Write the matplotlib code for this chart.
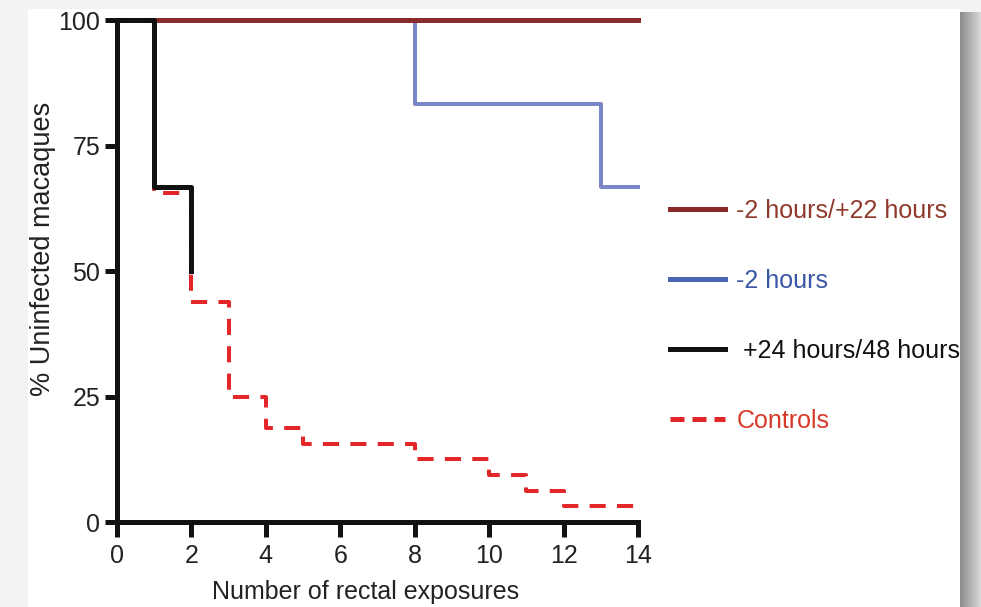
import numpy as np
import matplotlib
matplotlib.use('Agg')
import matplotlib.pyplot as plt
from matplotlib.lines import Line2D
from matplotlib.patches import Rectangle

plt.rcParams['font.family'] = ['Liberation Sans', 'DejaVu Sans']

# Kaplan-Meier style step data (x = exposure number where value starts)
both_x = [0, 14]
both_y = [100, 100]

pre_x = [0, 8, 13, 14]
pre_y = [100, 83.3, 66.7, 66.7]

post_x = [0, 1, 2]
post_y = [100, 66.7, 50]

ctrl_x = [0, 1, 2, 3, 4, 5, 8, 10, 11, 12, 14]
ctrl_y = [100, 65.6, 43.75, 25, 18.75, 15.6, 12.5, 9.4, 6.25, 3.1, 3.1]

labels = ['-2 hours/+22 hours', '-2 hours', ' +24 hours/48 hours', 'Controls']
line_colors = ['#8b2a2a', '#7a86c6', '#111111', '#e2262a']
text_colors = ['#8f3a2c', '#3a56a6', '#111111', '#d83a2a']

xticks = [0, 2, 4, 6, 8, 10, 12, 14]
yticks = [0, 25, 50, 75, 100]

W, H = 981, 607
fig = plt.figure(figsize=(W / 100, H / 100), dpi=100, facecolor='#f3f3f3')

# white panel with soft shadow on the right
fig.patches.append(Rectangle((28 / W, 0), (960 - 28) / W, 1 - 9 / H,
                             transform=fig.transFigure, facecolor='white',
                             edgecolor='none', zorder=-10))
sh = fig.add_axes([960 / W, 0, 21 / W, 1 - 12 / H])
grad = np.linspace(0.55, 0.85, 50)[None, :]
sh.imshow(grad, cmap='gray', vmin=0, vmax=1, aspect='auto')
sh.axis('off')

ax = fig.add_axes([117 / W, (H - 522) / H, 521 / W, 502 / H])
ax.set_facecolor('none')

ax.step(ctrl_x, ctrl_y, where='post', color=line_colors[3], lw=2.9,
        dashes=(4.0, 2.8), clip_on=False, zorder=2)
ax.step(pre_x, pre_y, where='post', color=line_colors[1], lw=2.9,
        clip_on=False, zorder=3)
ax.step(both_x, both_y, where='post', color=line_colors[0], lw=3.6,
        clip_on=False, zorder=4)
ax.step(post_x, post_y, where='post', color=line_colors[2], lw=3.6,
        clip_on=False, zorder=5)

ax.set_xlim(0, 14)
ax.set_ylim(0, 100)
ax.set_xticks(xticks)
ax.set_yticks(yticks)
for s in ['top', 'right']:
    ax.spines[s].set_visible(False)
for s in ['left', 'bottom']:
    ax.spines[s].set_linewidth(3.6)
    ax.spines[s].set_color('#111111')
ax.tick_params(axis='x', length=11, width=3.6, color='#111111', labelsize=18,
               labelcolor='#222222', pad=5)
ax.tick_params(axis='y', length=9, width=3.6, color='#111111', labelsize=18,
               labelcolor='#222222', pad=3)
ax.set_xlabel('Number of rectal exposures', fontsize=18, color='#222222')
ax.set_ylabel('% Uninfected macaques', fontsize=19.5, color='#222222')
ax.xaxis.set_label_coords(0.477, -0.116)
ax.yaxis.set_label_coords(-0.118, 0.545)

handles = [Line2D([], [], color=line_colors[0], lw=3.6),
           Line2D([], [], color='#4a64b4', lw=3.6),
           Line2D([], [], color=line_colors[2], lw=3.6),
           Line2D([], [], color=line_colors[3], lw=3.6, dashes=(2.8, 1.6))]
leg = fig.legend(handles, labels, loc='upper left',
                 bbox_to_anchor=(670 / W, 1 - 199 / H), frameon=False,
                 fontsize=18, handlelength=2.2, handletextpad=0.45,
                 labelspacing=1.84, borderpad=0, borderaxespad=0,
                 labelcolor=text_colors)

fig.savefig('out.png', dpi=100, facecolor=fig.get_facecolor())
